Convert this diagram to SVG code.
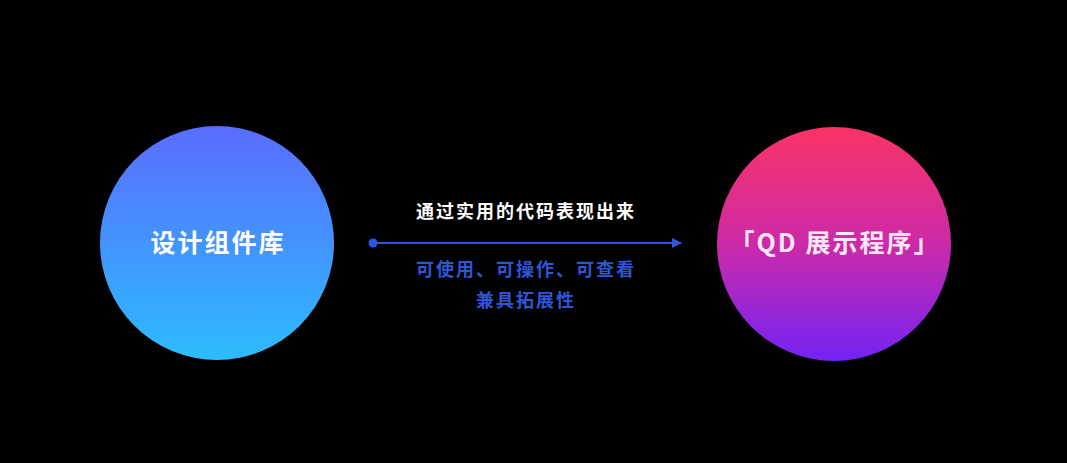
<svg xmlns="http://www.w3.org/2000/svg" width="1067" height="463" viewBox="0 0 1067 463">
<defs>
<linearGradient id="gBlue" x1="0" y1="0" x2="0" y2="1">
<stop offset="0" stop-color="#5a6cff"/>
<stop offset="1" stop-color="#2cbcfe"/>
</linearGradient>
<linearGradient id="gPink" x1="0" y1="0" x2="0" y2="1">
<stop offset="0" stop-color="#fb3366"/>
<stop offset="0.5" stop-color="#cc2aa8"/>
<stop offset="1" stop-color="#7323f5"/>
</linearGradient>
<marker id="arrow" viewBox="0 0 10 10" refX="9" refY="5" markerWidth="10" markerHeight="10" markerUnits="userSpaceOnUse" orient="auto">
<path d="M0,0 L10,5 L0,10 Z" fill="#2f57dc"/>
</marker>
<style>
.lbl{font-family:"Noto Sans CJK SC","Liberation Sans",sans-serif;font-weight:bold;text-anchor:middle}
.node{font-size:25px;letter-spacing:2px}
.top{font-size:18px;fill:#ffffff;letter-spacing:2px}
.blue{font-size:18px;fill:#2d56d8;letter-spacing:2px}
</style>
</defs>
<rect width="1067" height="463" fill="#000000"/>
<g id="node-left">
<circle cx="217" cy="243" r="117" fill="url(#gBlue)"/>
<text class="lbl node" x="218" y="252" fill="#ffffff">设计组件库</text>
</g>
<g id="node-right">
<circle cx="834" cy="244" r="117" fill="url(#gPink)"/>
<text class="lbl node" x="835" y="252" fill="#fde8fb">「QD 展示程序」</text>
</g>
<g id="connectors">
<circle cx="373" cy="243" r="4.5" fill="#2f57dc"/>
<line x1="373" y1="243" x2="681" y2="243" stroke="#2f57dc" stroke-width="2" marker-end="url(#arrow)"/>
<text class="lbl top" x="526" y="218">通过实用的代码表现出来</text>
<text class="lbl blue" x="526" y="276">可使用、可操作、可查看</text>
<text class="lbl blue" x="526" y="307">兼具拓展性</text>
</g>
</svg>
